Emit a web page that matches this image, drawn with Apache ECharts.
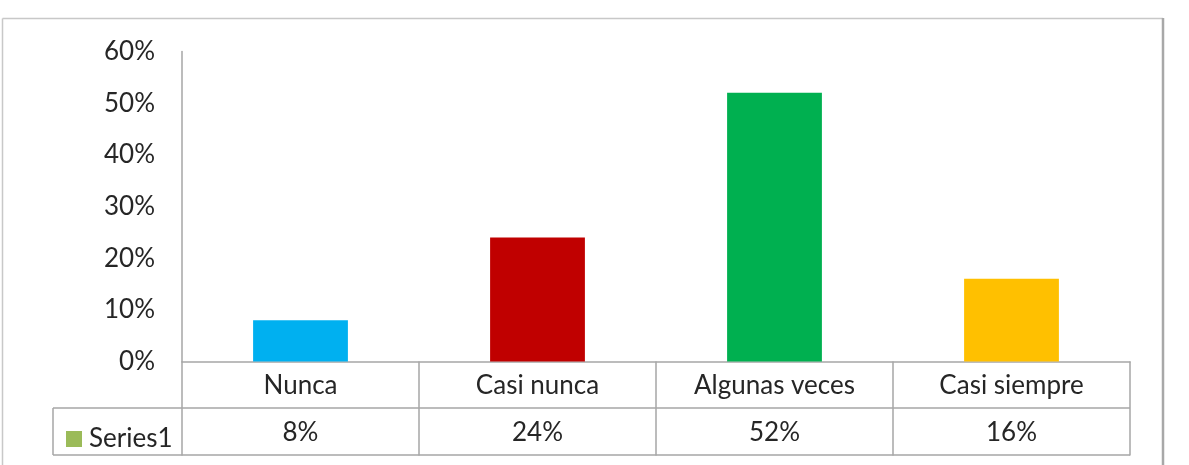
<!DOCTYPE html>
<html><head><meta charset="utf-8">
<script src="https://cdn.jsdelivr.net/npm/echarts@6/dist/echarts.min.js"></script>
<style>html,body{margin:0;padding:0;background:#fff}#c{width:1189px;height:465px}</style>
</head><body><div id="c"></div>
<script>
const categories = ['Nunca', 'Casi nunca', 'Algunas veces', 'Casi siempre'];
const values = [0.08, 0.24, 0.52, 0.16];
const barColors = ['#00B0F0', '#C00000', '#00B050', '#FFC000'];
const seriesName = 'Series1';
const yTicks = [0, 0.1, 0.2, 0.3, 0.4, 0.5, 0.6];

const font = 'Lato, "Open Sans", sans-serif';
const txt = '#262626';
const lineC = '#A6A6A6';
const fs = 26;
const pct = v => Math.round(v * 100) + '%';

const chart = echarts.init(document.getElementById('c'));
chart.setOption({
  animation: false,
  backgroundColor: '#fff',
  grid: { left: 182, right: 59, top: 51.5, bottom: 103.5 },
  legend: {
    data: [seriesName], left: 61, top: 421, icon: 'rect', itemWidth: 16, itemHeight: 16, itemGap: 6,
    textStyle: { fontFamily: font, fontSize: fs, color: txt, padding: [0, 0, 0, 2] }
  },
  xAxis: [{
    type: 'category', data: categories, position: 'bottom',
    axisLine: { show: true, lineStyle: { color: lineC, width: 1.5 } },
    axisTick: { show: true, length: 94, lineStyle: { color: lineC, width: 1.5 } },
    axisLabel: { margin: 11, fontFamily: font, fontSize: fs, color: txt }
  }, {
    type: 'category', data: values.map(pct), position: 'bottom', offset: 47,
    axisLine: { show: false }, axisTick: { show: false },
    axisLabel: { margin: 11, fontFamily: font, fontSize: fs, color: txt }
  }],
  yAxis: {
    type: 'value', min: yTicks[0], max: yTicks[yTicks.length - 1], interval: 0.1,
    axisLine: { show: true, lineStyle: { color: lineC, width: 1.5 } },
    axisTick: { show: false }, splitLine: { show: false },
    axisLabel: { margin: 27, fontFamily: font, fontSize: fs, color: txt, formatter: pct }
  },
  series: [{
    name: seriesName, type: 'bar', xAxisIndex: 0, barCategoryGap: '60%',
    itemStyle: { color: '#9BBB59' },
    data: values.map((v, i) => ({ value: v, itemStyle: { color: barColors[i] } }))
  }],
  graphic: [
    { type: 'line', shape: { x1: 2.5, y1: 18.5, x2: 1163, y2: 18.5 }, style: { stroke: '#C8C8C8', lineWidth: 1.5 }, silent: true },
    { type: 'line', shape: { x1: 2.5, y1: 18.5, x2: 2.5, y2: 465 }, style: { stroke: '#C8C8C8', lineWidth: 1.5 }, silent: true },
    { type: 'line', shape: { x1: 1163, y1: 18, x2: 1163, y2: 465 }, style: { stroke: '#A8A8A8', lineWidth: 2.5 }, silent: true },
    { type: 'line', shape: { x1: 53, y1: 408, x2: 1130, y2: 408 }, style: { stroke: lineC, lineWidth: 1.5 }, silent: true },
    { type: 'line', shape: { x1: 53, y1: 455, x2: 1130, y2: 455 }, style: { stroke: lineC, lineWidth: 1.5 }, silent: true },
    { type: 'line', shape: { x1: 53, y1: 408, x2: 53, y2: 455 }, style: { stroke: lineC, lineWidth: 1.5 }, silent: true }
  ]
});
</script></body></html>
